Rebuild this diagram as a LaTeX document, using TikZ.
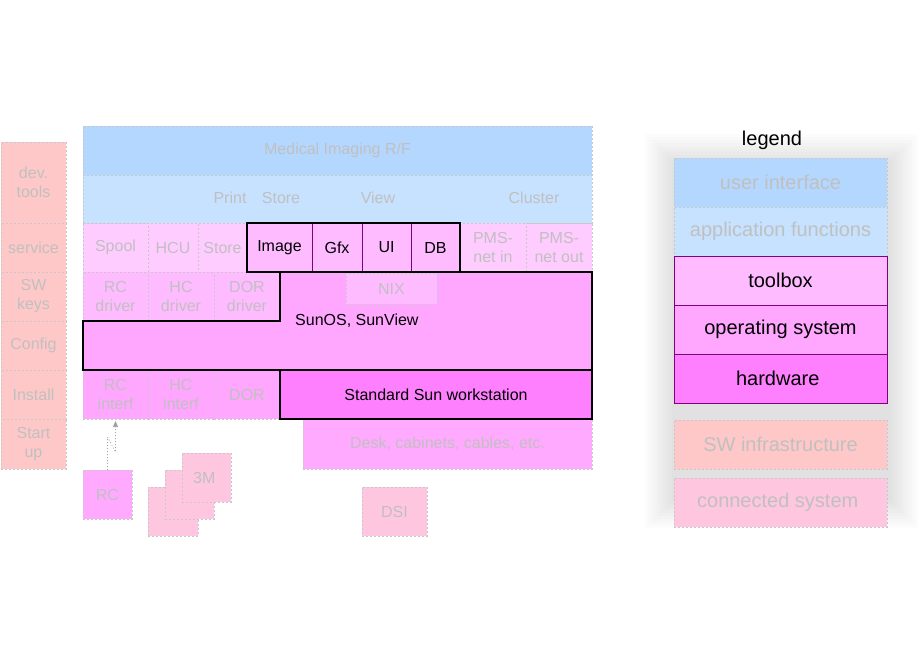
\documentclass[tikz,border=0pt]{standalone}
\usepackage{fontspec}
\setmainfont{Liberation Sans}
\usetikzlibrary{arrows.meta}
\definecolor{uiBlue}{RGB}{180,215,255}
\definecolor{appBlue}{RGB}{198,226,255}
\definecolor{tbLight}{RGB}{255,204,255}
\definecolor{toolPink}{RGB}{255,187,255}
\definecolor{osPink}{RGB}{255,166,255}
\definecolor{interfPink}{RGB}{255,166,255}
\definecolor{hwPink}{RGB}{255,128,255}
\definecolor{deskPink}{RGB}{255,170,255}
\definecolor{infraPink}{RGB}{255,200,200}
\definecolor{connPink}{RGB}{255,198,224}
\definecolor{textGray}{RGB}{192,192,192}
\definecolor{lineGray}{RGB}{200,200,200}
\definecolor{arrowGray}{RGB}{160,160,160}
\definecolor{toolPurple}{RGB}{128,0,128}
\begin{document}
\begin{tikzpicture}[
    x=1pt,
    y=-1pt,
    font=\fontsize{16}{19}\selectfont,
    ghost/.style={draw=lineGray, dash pattern=on 2pt off 2pt, line width=0.6pt,
        text=textGray, align=center, inner sep=0pt, outer sep=0pt},
    keyline/.style={draw=black, line width=1.1pt},
    toolcell/.style={draw=toolPurple, line width=0.9pt, text=black,
        align=center, inner sep=0pt, outer sep=0pt},
    dim/.style={text=textGray, inner sep=0pt},
    zap/.style={draw=arrowGray, dash pattern=on 1pt off 2pt, line width=0.7pt,
        -{Triangle[length=6pt, width=5pt, fill=arrowGray]}},
    legfont/.style={font=\fontsize{20}{23}\selectfont}
]
\path[use as bounding box] (0,0) rectangle (920,660);

% Legend shadow, faint layers getting darker inwards.
\foreach \d in {0,3,...,27} {
    \fill[black, opacity=0.012] (645+\d,134+\d) rectangle (918-\d,528-\d);
}

% Ghost cells: name / fill / x1 / y1 / x2 / y2 / text
\foreach \n/\fc/\xa/\ya/\xb/\yb/\t in {
    devtools/infraPink/1/142/66/223/dev.\\tools,
    service/infraPink/1/223/66/272/service,
    swkeys/infraPink/1/272/66/321/SW\\keys,
    config/infraPink/1/321/66/370/Config,
    install/infraPink/1/370/66/419/Install,
    startup/infraPink/1/419/66/469/Start\\up,
    spool/tbLight/83/223/148/272/Spool,
    hcu/tbLight/148/223/198/272/HCU,
    tbstore/tbLight/198/223/247/272/Store,
    pmsin/tbLight/460/223/526/272/PMS-\\net in,
    pmsout/tbLight/526/223/592/272/PMS-\\net out,
    rcdriver/toolPink/83/272/148/321/RC\\driver,
    hcdriver/toolPink/148/272/214/321/HC\\driver,
    dordriver/toolPink/214/272/280/321/DOR\\driver,
    rcinterf/interfPink/83/370/148/419/RC\\interf,
    hcinterf/interfPink/148/370/214/419/HC\\interf,
    dor/interfPink/214/370/280/419/DOR,
    rc/deskPink/83/470/132/519/RC,
    dsi/connPink/362/487/427/536/DSI,
    stackA/connPink/148/487/198/536/{},
    stackB/connPink/165/470/214/519/{},
    threem/connPink/182/453/231/502/3M
} {
    \node[ghost, fill=\fc, minimum width={(\xb-\xa)*1pt},
        minimum height={(\yb-\ya)*1pt}] (\n) at ({(\xa+\xb)/2},{(\ya+\yb)/2}) {\t};
}

% User interface and application functions rows.
\node[ghost, fill=uiBlue, minimum width=509pt, minimum height=49pt] (medical)
    at (337.5,150.5) {Medical Imaging R/F};
\node[ghost, fill=appBlue, minimum width=509pt, minimum height=48pt] (appfn)
    at (337.5,199) {};
\foreach \n/\x/\t in {print/230/Print, appstore/281/Store, view/378/View, cluster/534/Cluster} {
    \node[dim] (\n) at (\x,198) {\t};
}

% Toolbox cells with a black outline round the group.
\foreach \n/\xa/\xb/\t in {image/247/312/Image, gfx/312/362/Gfx, ui/362/411/UI, db/411/460/DB} {
    \node[toolcell, fill=toolPink, minimum width={(\xb-\xa)*1pt}, minimum height=49pt]
        (\n) at ({(\xa+\xb)/2},247.5) {\t};
}
\draw[keyline] (image.north west) rectangle (db.south east);

% Operating system block.
\fill[osPink] (280,272) -- (592,272) -- (592,370) -- (83,370) -- (83,321) -- (280,321) -- cycle;
\node[ghost, fill=toolPink, minimum width=91pt, minimum height=31pt] (nix) at (391.5,288.5) {NIX};
\draw[keyline] (280,272) -- (592,272) -- (592,370) -- (83,370) -- (83,321) -- (280,321) -- cycle;
\node[anchor=west, inner sep=0pt] (sunos) at (295,321) {SunOS, SunView};

% Hardware.
\node[ghost, fill=deskPink, minimum width=289pt, minimum height=50pt] (desk)
    at (447.5,444) {Desk, cabinets, cables, etc.};
\node[keyline, fill=hwPink, minimum width=312pt, minimum height=49pt, inner sep=0pt]
    (sunws) at (436,394.5) {Standard Sun workstation};

% RC link into its interface.
\draw[zap] (rc.north) -- ++(0,-33) -- ++(8,15) -- ([yshift=-2pt]rcinterf.south);

% Legend
\node[legfont, inner sep=0pt] (legend) at (772,140) {legend};
\foreach \n/\fc/\ya/\yb/\t in {
    legui/uiBlue/158/207/user interface,
    legapp/appBlue/207/256/application functions,
    leginfra/infraPink/420/469/SW infrastructure,
    legconn/connPink/478/527/connected system
} {
    \node[ghost, legfont, fill=\fc, minimum width=213pt, minimum height={(\yb-\ya)*1pt}]
        (\n) at (780.5,{(\ya+\yb)/2}) {\t};
}
\foreach \n/\fc/\ya/\yb/\t in {
    legtool/toolPink/256/305/toolbox,
    legos/osPink/305/354/operating system,
    leghw/hwPink/354/403/hardware
} {
    \node[toolcell, legfont, fill=\fc, minimum width=213pt, minimum height={(\yb-\ya)*1pt}]
        (\n) at (780.5,{(\ya+\yb)/2}) {\t};
}
\end{tikzpicture}
\end{document}
